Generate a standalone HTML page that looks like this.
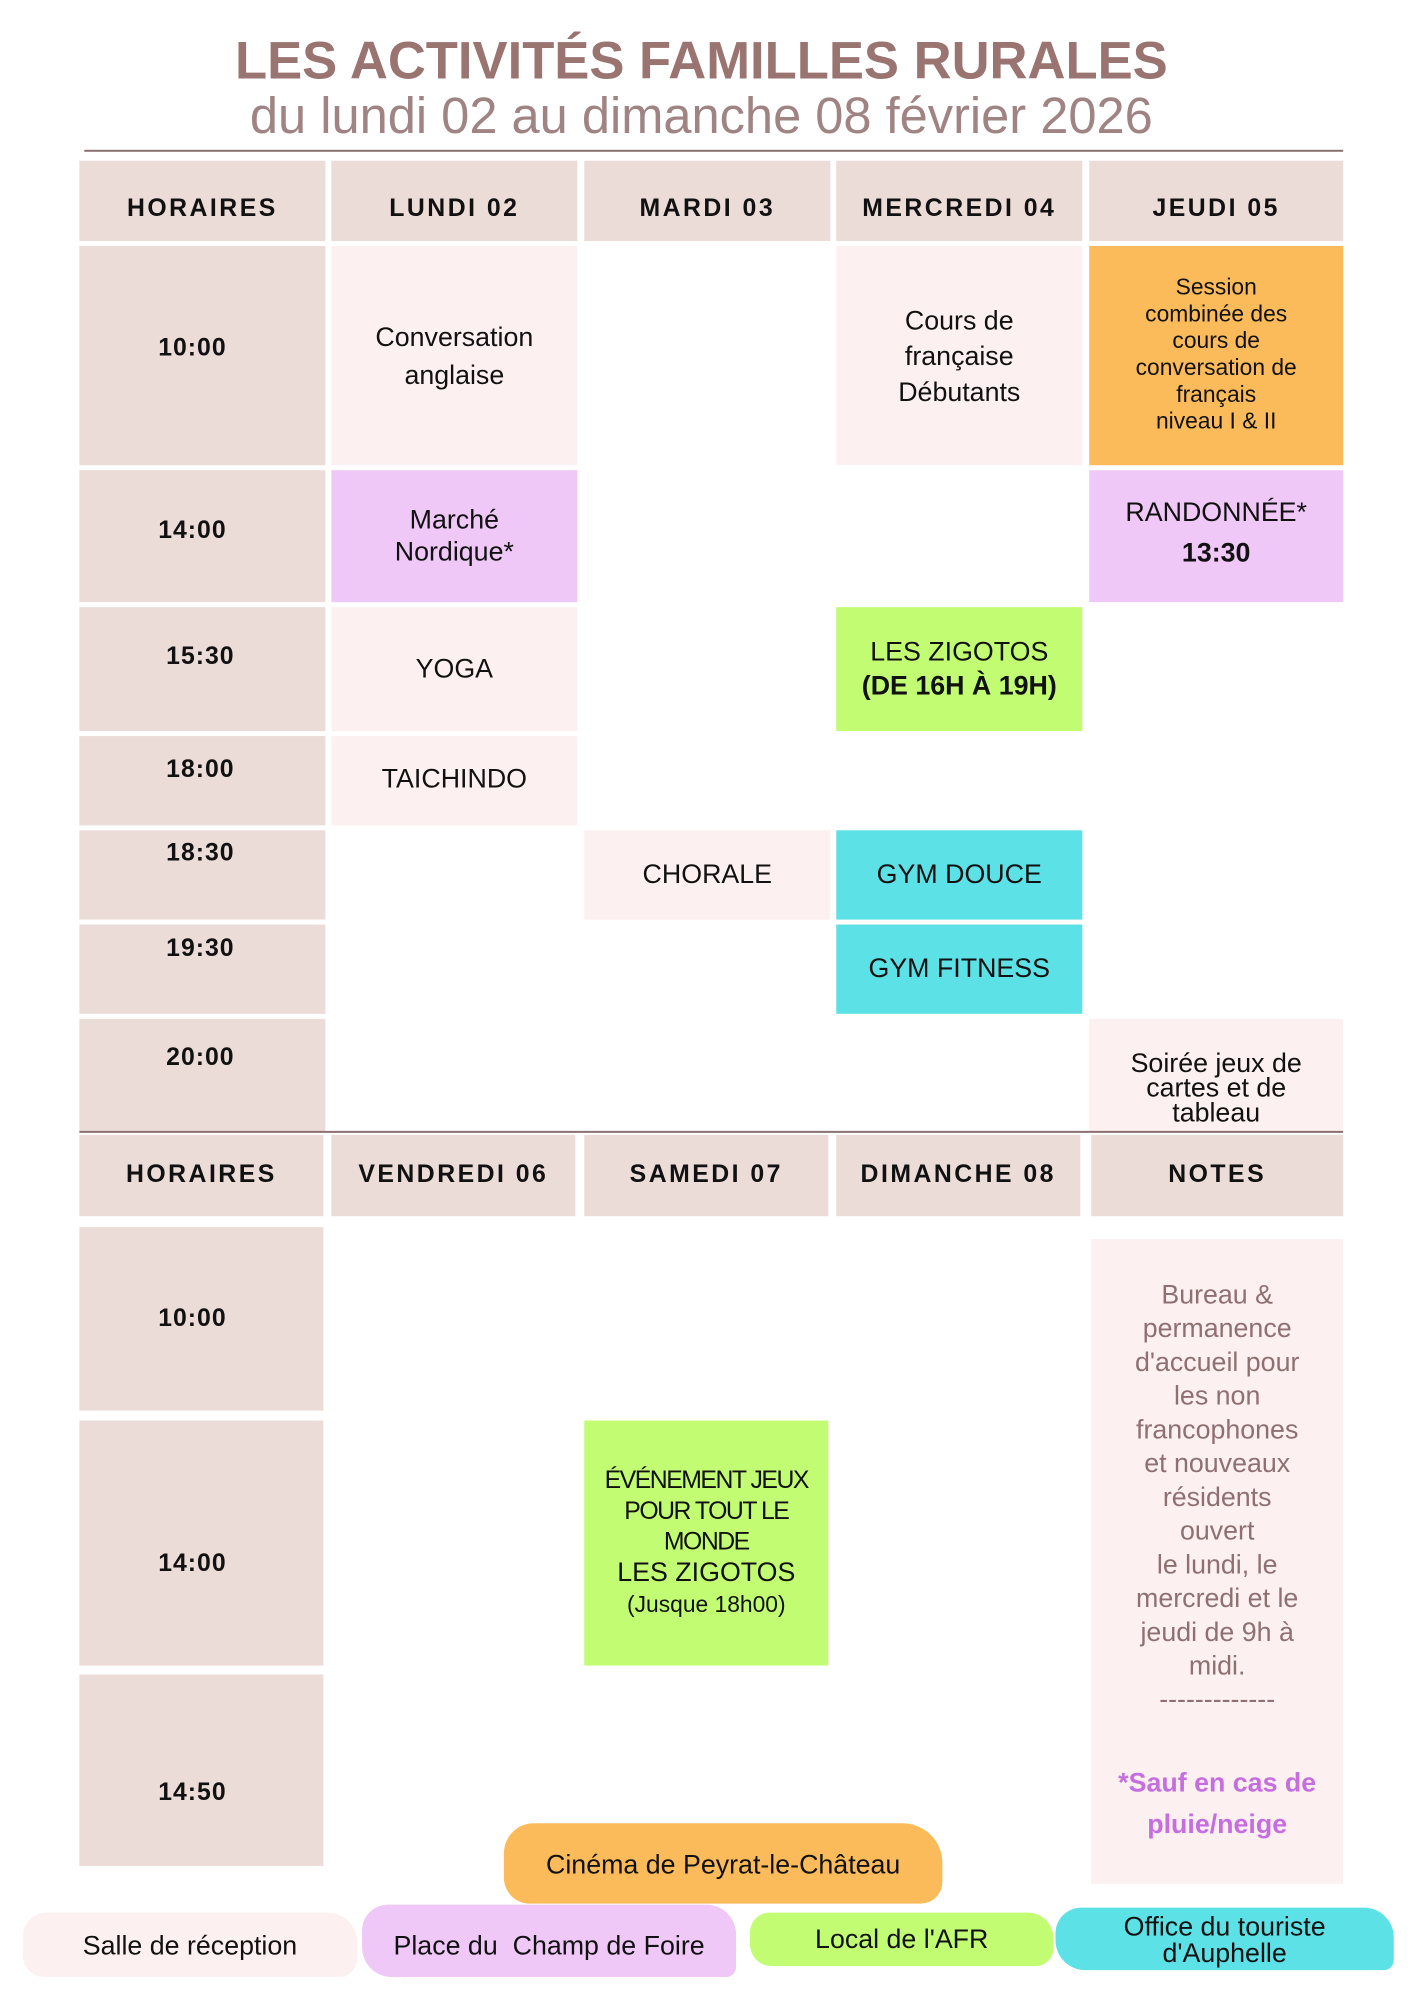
<!DOCTYPE html>
<html><head><meta charset="utf-8">
<style>
*{margin:0;padding:0;box-sizing:border-box}
body{width:1414px;height:2000px;position:relative;background:#fff;font-family:"Liberation Sans",sans-serif;overflow:hidden;color:#111}
#w{position:absolute;left:0;top:0;width:1414px;height:2000px;transform:scale(0.992);transform-origin:0 0}
.b{position:absolute}
.h{background:#ecdcd8}
.p{background:#fdf0f0}
.o{background:#fcbb5a}
.l{background:#efc8f7}
.g{background:#c2fc72}
.c{background:#5ce1e6}
.t{position:absolute;text-align:center;transform:translateY(-50%);white-space:nowrap}
.hd{font-weight:bold;font-size:25px;letter-spacing:2.5px}
.tm{font-weight:bold;font-size:25px;letter-spacing:1px}
.a{font-size:27px;line-height:38px}
</style></head><body><div id="w">
<div class="t" style="left:0;width:1414px;font-size:53px;font-weight:bold;color:#9a7470;transform:none;top:31px">LES ACTIVITÉS FAMILLES RURALES</div>
<div class="t" style="left:0;width:1414px;top:87px;font-size:51px;color:#a08484;transform:none">du lundi 02 au dimanche 08 février 2026</div>
<div class="b" style="left:85px;top:151px;width:1269px;height:2px;background:#8a7070"></div>

<div class="b h" style="left:80px;top:162px;width:248px;height:81px"></div>
<div class="b h" style="left:334px;top:162px;width:248px;height:81px"></div>
<div class="b h" style="left:589px;top:162px;width:248px;height:81px"></div>
<div class="b h" style="left:843px;top:162px;width:248px;height:81px"></div>
<div class="b h" style="left:1098px;top:162px;width:256px;height:81px"></div>
<div class="t hd" style="left:80px;width:248px;top:210px">HORAIRES</div>
<div class="t hd" style="left:334px;width:248px;top:210px">LUNDI 02</div>
<div class="t hd" style="left:589px;width:248px;top:210px">MARDI 03</div>
<div class="t hd" style="left:843px;width:248px;top:210px">MERCREDI 04</div>
<div class="t hd" style="left:1098px;width:256px;top:210px">JEUDI 05</div>

<div class="b h" style="left:80px;top:248px;width:248px;height:221px"></div>
<div class="b h" style="left:80px;top:474px;width:248px;height:133px"></div>
<div class="b h" style="left:80px;top:612px;width:248px;height:125px"></div>
<div class="b h" style="left:80px;top:742px;width:248px;height:90px"></div>
<div class="b h" style="left:80px;top:837px;width:248px;height:90px"></div>
<div class="b h" style="left:80px;top:932px;width:248px;height:90px"></div>
<div class="b h" style="left:80px;top:1027px;width:248px;height:114px"></div>
<div class="t tm" style="left:80px;width:228px;top:351px">10:00</div>
<div class="t tm" style="left:80px;width:228px;top:535px">14:00</div>
<div class="t tm" style="left:80px;width:244px;top:662px">15:30</div>
<div class="t tm" style="left:80px;width:244px;top:776px">18:00</div>
<div class="t tm" style="left:80px;width:244px;top:860px">18:30</div>
<div class="t tm" style="left:80px;width:244px;top:956px">19:30</div>
<div class="t tm" style="left:80px;width:244px;top:1066px">20:00</div>

<div class="b p" style="left:334px;top:248px;width:248px;height:221px"></div>
<div class="t a" style="left:334px;width:248px;top:359px">Conversation<br>anglaise</div>
<div class="b l" style="left:334px;top:474px;width:248px;height:133px"></div>
<div class="t a" style="left:334px;width:248px;top:540px;line-height:32px">Marché<br>Nordique*</div>
<div class="b p" style="left:334px;top:612px;width:248px;height:125px"></div>
<div class="t a" style="left:334px;width:248px;top:674px">YOGA</div>
<div class="b p" style="left:334px;top:742px;width:248px;height:90px"></div>
<div class="t a" style="left:334px;width:248px;top:785px">TAICHINDO</div>
<div class="b p" style="left:589px;top:837px;width:248px;height:90px"></div>
<div class="t a" style="left:589px;width:248px;top:881px">CHORALE</div>

<div class="b p" style="left:843px;top:248px;width:248px;height:221px"></div>
<div class="t a" style="left:843px;width:248px;top:359px;line-height:36px">Cours de<br>française<br>Débutants</div>
<div class="b g" style="left:843px;top:612px;width:248px;height:125px"></div>
<div class="t a" style="left:843px;width:248px;top:674px;line-height:34px">LES ZIGOTOS<br><b>(DE 16H À 19H)</b></div>
<div class="b c" style="left:843px;top:837px;width:248px;height:90px"></div>
<div class="t a" style="left:843px;width:248px;top:881px">GYM DOUCE</div>
<div class="b c" style="left:843px;top:932px;width:248px;height:90px"></div>
<div class="t a" style="left:843px;width:248px;top:976px">GYM FITNESS</div>

<div class="b o" style="left:1098px;top:248px;width:256px;height:221px"></div>
<div class="t" style="left:1098px;width:256px;top:357px;font-size:23px;line-height:27px">Session<br>combinée des<br>cours de<br>conversation de<br>français<br>niveau I &amp; II</div>
<div class="b l" style="left:1098px;top:474px;width:256px;height:133px"></div>
<div class="t a" style="left:1098px;width:256px;top:537px;line-height:41px">RANDONNÉE*<br><b>13:30</b></div>
<div class="b p" style="left:1098px;top:1027px;width:256px;height:114px"></div>
<div class="t" style="left:1098px;width:256px;top:1097px;font-size:27px;line-height:25px">Soirée jeux de<br>cartes et de<br>tableau</div>

<div class="b" style="left:80px;top:1140px;width:1274px;height:2px;background:#8a7070"></div>

<div class="b h" style="left:80px;top:1144px;width:246px;height:82px"></div>
<div class="b h" style="left:334px;top:1144px;width:246px;height:82px"></div>
<div class="b h" style="left:589px;top:1144px;width:246px;height:82px"></div>
<div class="b h" style="left:843px;top:1144px;width:246px;height:82px"></div>
<div class="b h" style="left:1100px;top:1144px;width:254px;height:82px"></div>
<div class="t hd" style="left:80px;width:246px;top:1184px">HORAIRES</div>
<div class="t hd" style="left:334px;width:246px;top:1184px">VENDREDI 06</div>
<div class="t hd" style="left:589px;width:246px;top:1184px">SAMEDI 07</div>
<div class="t hd" style="left:843px;width:246px;top:1184px">DIMANCHE 08</div>
<div class="t hd" style="left:1100px;width:254px;top:1184px">NOTES</div>

<div class="b h" style="left:80px;top:1237px;width:246px;height:185px"></div>
<div class="b h" style="left:80px;top:1432px;width:246px;height:247px"></div>
<div class="b h" style="left:80px;top:1688px;width:246px;height:193px"></div>
<div class="t tm" style="left:80px;width:228px;top:1329px">10:00</div>
<div class="t tm" style="left:80px;width:228px;top:1576px">14:00</div>
<div class="t tm" style="left:80px;width:228px;top:1807px">14:50</div>

<div class="b g" style="left:589px;top:1432px;width:246px;height:247px"></div>
<div class="t" style="left:589px;width:246px;top:1555px;font-size:25px;line-height:31px;letter-spacing:-1.5px">ÉVÉNEMENT JEUX<br>POUR TOUT LE<br>MONDE<br><span style="letter-spacing:0;font-size:27px">LES ZIGOTOS</span><br><span style="letter-spacing:0;font-size:23px">(Jusque 18h00)</span></div>

<div class="b p" style="left:1100px;top:1249px;width:254px;height:650px"></div>
<div class="b" style="left:1100px;top:1288px;width:254px;text-align:center;font-size:27px;line-height:34px;color:#8f7072">Bureau &amp;<br>permanence<br>d'accueil pour<br>les non<br>francophones<br>et nouveaux<br>résidents<br>ouvert<br>le lundi, le<br>mercredi et le<br>jeudi de 9h à<br>midi.<br>-------------</div>
<div class="b" style="left:1100px;top:1776px;width:254px;text-align:center;font-size:27px;line-height:42px;color:#c46ee0;font-weight:bold">*Sauf en cas de<br>pluie/neige</div>

<div class="b o" style="left:508px;top:1838px;width:442px;height:81px;border-radius:30px 40px 22px 26px"></div>
<div class="t" style="left:508px;width:442px;top:1880px;font-size:27px">Cinéma de Peyrat-le-Château</div>
<div class="b p" style="left:23px;top:1928px;width:337px;height:65px;border-radius:24px 30px 18px 22px"></div>
<div class="t" style="left:23px;width:337px;top:1962px;font-size:27px">Salle de réception</div>
<div class="b l" style="left:365px;top:1920px;width:377px;height:73px;border-radius:26px 30px 10px 30px"></div>
<div class="t" style="left:365px;width:377px;top:1962px;font-size:27px">Place du &nbsp;Champ de Foire</div>
<div class="b g" style="left:756px;top:1928px;width:306px;height:54px;border-radius:20px 26px 18px 22px"></div>
<div class="t" style="left:756px;width:306px;top:1955px;font-size:27px">Local de l'AFR</div>
<div class="b c" style="left:1064px;top:1923px;width:341px;height:63px;border-radius:26px 30px 10px 30px"></div>
<div class="t" style="left:1064px;width:341px;top:1956px;font-size:27px;line-height:27px">Office du touriste<br>d'Auphelle</div>
</div></body></html>
